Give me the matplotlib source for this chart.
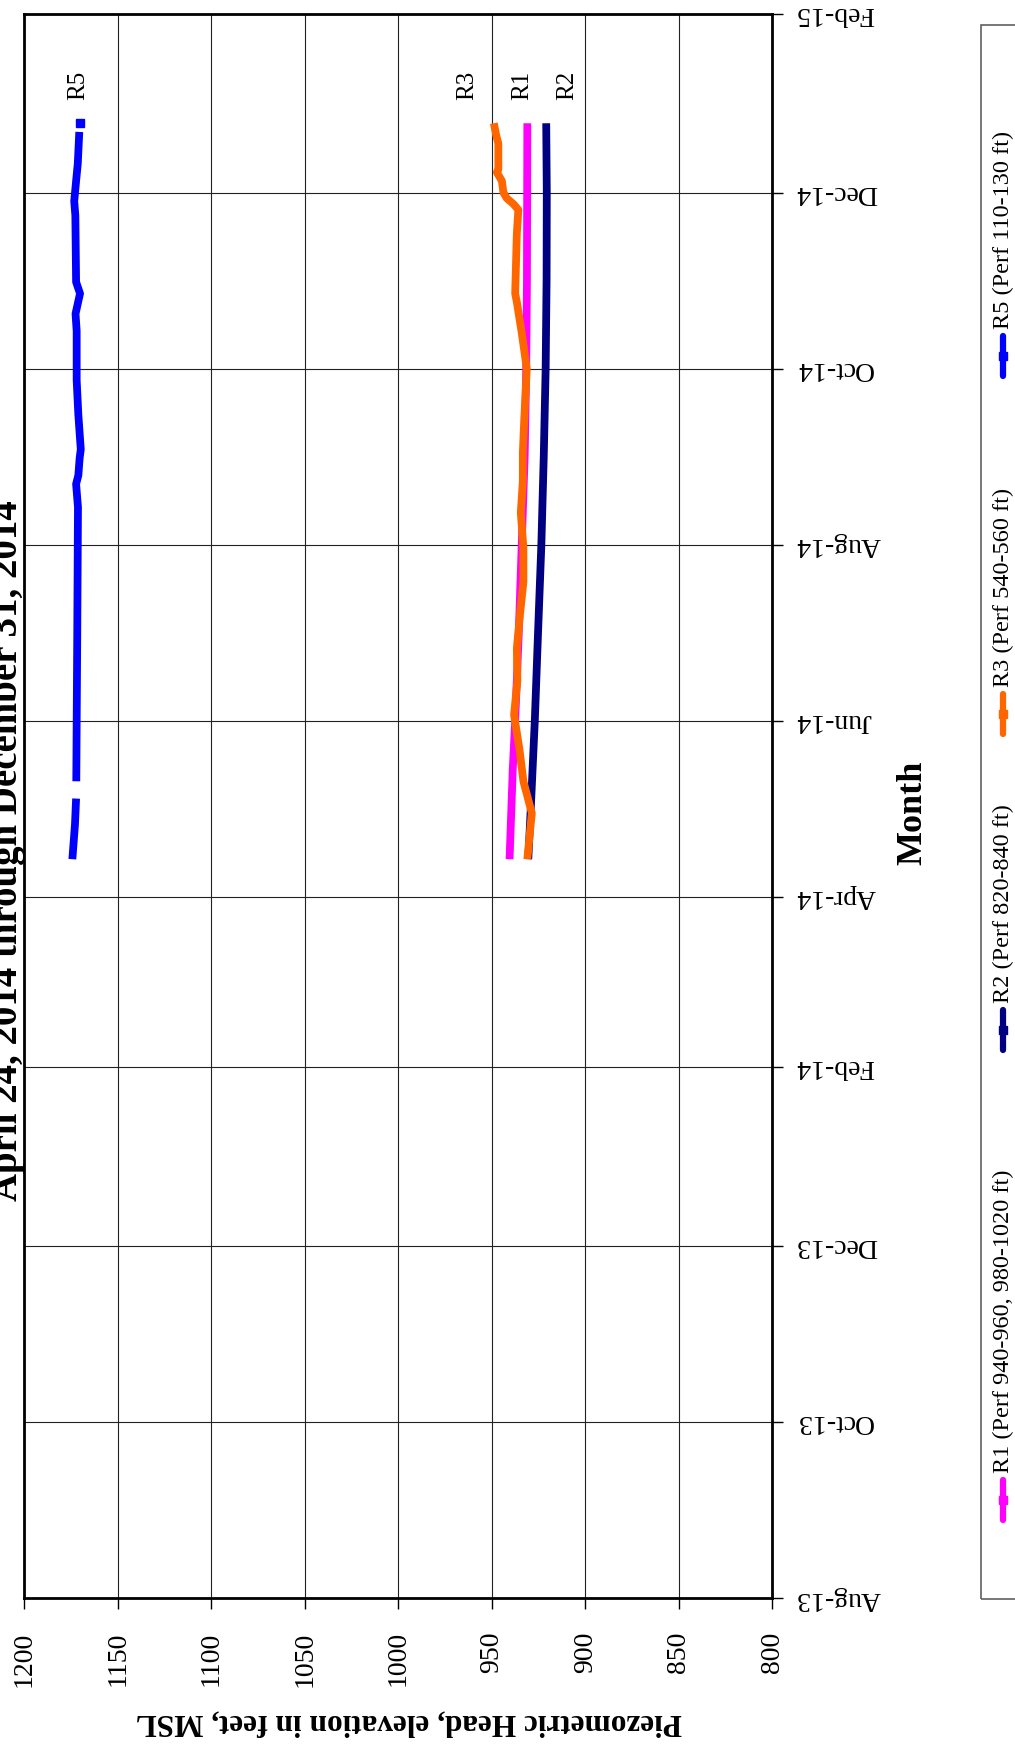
import numpy as np
import pandas as pd
import matplotlib
matplotlib.use('Agg')
import matplotlib.pyplot as plt
import matplotlib.dates as mdates
from matplotlib.lines import Line2D
from matplotlib.patches import Rectangle

plt.rcParams['font.family'] = ['Liberation Serif', 'DejaVu Serif']

# piezometric head (ft MSL). nan = gap in record
r1_dates = ['2014-04-14', '2014-05-15', '2014-06-01', '2014-07-01', '2014-08-01',
            '2014-09-01', '2014-10-01', '2014-11-01', '2014-12-25']
r1_head = [940.5, 938.8, 937.5, 935.6, 934.0, 932.4, 931.6, 931.2, 931.0]

r2_dates = ['2014-04-14', '2014-05-01', '2014-06-01', '2014-07-01', '2014-08-01',
            '2014-09-01', '2014-10-01', '2014-11-01', '2014-12-01', '2014-12-25']
r2_head = [930.5, 929.2, 927.0, 925.3, 923.5, 922.2, 921.2, 920.7, 920.6, 920.9]

r3_dates = ['2014-04-14', '2014-04-30', '2014-05-11', '2014-05-22', '2014-06-03',
            '2014-06-15', '2014-06-26', '2014-07-08', '2014-07-19', '2014-07-31',
            '2014-08-12', '2014-08-23', '2014-09-02', '2014-09-14', '2014-10-01',
            '2014-10-13', '2014-10-24', '2014-10-27', '2014-11-17', '2014-11-25',
            '2014-11-27', '2014-11-29', '2014-12-01', '2014-12-05', '2014-12-08',
            '2014-12-09', '2014-12-18', '2014-12-21', '2014-12-25']
r3_head = [931.0, 928.6, 933.1, 935.2, 938.1,
           936.3, 936.6, 934.9, 933.1, 933.1,
           934.5, 933.4, 933.4, 932.6, 931.3,
           933.9, 936.6, 937.5, 936.6, 935.8,
           938.4, 942.0, 943.8, 944.6, 947.3,
           946.5, 946.5, 947.7, 948.9]

r5_dates = ['2014-04-14', '2014-04-26', '2014-05-05', '2014-05-08', '2014-05-11',
            '2014-05-31', '2014-06-29', '2014-08-02', '2014-08-14', '2014-08-22',
            '2014-08-25', '2014-08-31', '2014-09-03', '2014-09-15', '2014-09-27',
            '2014-10-14', '2014-10-20', '2014-10-27', '2014-10-31', '2014-11-23',
            '2014-11-28', '2014-12-05', '2014-12-11', '2014-12-22', '2014-12-23',
            '2014-12-25']
r5_head = [1174.3, 1172.9, 1172.3, np.nan, 1172.2,
           1172.0, 1171.7, 1171.4, 1171.3, 1172.3,
           1171.1, 1170.4, 1169.8, 1171.1, 1172.0,
           1172.0, 1172.6, 1170.2, 1172.3, 1172.7,
           1173.3, 1172.3, 1171.4, 1170.6, np.nan,
           1170.2]

series_names = ['R1', 'R2', 'R3', 'R5']
legend_labels = ['R1 (Perf 940-960, 980-1020 ft)', 'R2 (Perf 820-840 ft)',
                 'R3 (Perf 540-560 ft)', 'R5 (Perf 110-130 ft)']
colors = ['#FF00FF', '#000080', '#FF6600', '#0000FF']
all_dates = [r1_dates, r2_dates, r3_dates, r5_dates]
all_head = [r1_head, r2_head, r3_head, r5_head]

# series tags written next to the line ends (head, date)
tag_head = [933.9, 909.9, 963.0, 1171.2]
tag_date = '2015-01-07'

head_ticks = [800, 850, 900, 950, 1000, 1050, 1100, 1150, 1200]
date_start, date_end = '2013-08-01', '2015-02-01'

title_text = 'April 24, 2014 through December 31, 2014'
head_label = 'Piezometric Head, elevation in feet, MSL'
month_label = 'Month'

W, H = 1015, 1745
fig = plt.figure(figsize=(W / 100, H / 100), dpi=100)

def fx(px):
    return px / W

def fy(py):
    return 1 - py / H

# the chart page is turned 90 degrees: head runs right->left, time runs bottom->top
ax = fig.add_axes([fx(24.3), fy(1598), fx(748), 1584.4 / H])
ax.set_xlim(1200, 800)
ax.set_ylim(pd.Timestamp(date_start), pd.Timestamp(date_end))
ax.set_axisbelow(True)
ax.grid(True, color='#222222', lw=0.8)

for name, d, h, c in zip(series_names, all_dates, all_head, colors):
    d = pd.to_datetime(d)
    h = np.array(h)
    ax.plot(h, d, color=c, lw=5.6, solid_capstyle='butt', solid_joinstyle='round')
    # lone points between gaps
    for i in range(len(h)):
        prev_nan = i == 0 or np.isnan(h[i - 1])
        next_nan = i == len(h) - 1 or np.isnan(h[i + 1])
        if prev_nan and next_nan and not np.isnan(h[i]):
            ax.plot(h[i], d[i], 's', color=c, ms=6, mec=c)

for name, hv in zip(series_names, tag_head):
    ax.text(hv, pd.Timestamp(tag_date), name, rotation=90, fontsize=18,
            ha='center', va='center')

ax.set_xticks(head_ticks)
ax.tick_params(axis='x', labelrotation=90, labelsize=20, length=8, width=1,
               direction='out', pad=16)
ax.yaxis.set_major_locator(mdates.MonthLocator(bymonth=[2, 4, 6, 8, 10, 12]))
ax.yaxis.set_major_formatter(mdates.DateFormatter('%b-%y'))
ax.yaxis.tick_right()
ax.tick_params(axis='y', labelrotation=180, labelsize=20, length=8, width=1,
               direction='out', pad=9)
for lab in ax.get_yticklabels():
    lab.set_va('center')
for s in ax.spines.values():
    s.set_linewidth(2)
    s.set_color('black')

# axis titles and chart title
fig.text(fx(409), fy(1722), head_label, rotation=180, fontsize=22.5,
         fontweight='bold', ha='center', va='center')
fig.text(fx(913), fy(813), month_label, rotation=90, fontsize=26,
         fontweight='bold', ha='center', va='center')
fig.text(fx(17), fy(851), title_text, rotation=90, fontsize=28,
         fontweight='bold', ha='center', va='baseline', rotation_mode='anchor')

# legend box, cut off at the page edge
fig.patches.append(Rectangle((fx(981), fy(1599)), fx(60), (1599 - 25) / H,
                             transform=fig.transFigure, fill=False,
                             edgecolor='#606060', lw=1.2))
legend_mid = [1500, 1030, 714, 356]
for lab, c, ym in zip(legend_labels, colors, legend_mid):
    fig.lines.append(Line2D([fx(1003), fx(1003)], [fy(ym + 20), fy(ym - 20)],
                            transform=fig.transFigure, color=c, lw=4.5,
                            solid_capstyle='round'))
    fig.lines.append(Line2D([fx(1003)], [fy(ym)], transform=fig.transFigure,
                            marker='s', ms=6, color=c))
    fig.text(fx(1003), fy(ym - 27), lab, rotation=90, fontsize=17.5,
             ha='left', va='center', rotation_mode='anchor')

fig.savefig('out.png', dpi=100)
